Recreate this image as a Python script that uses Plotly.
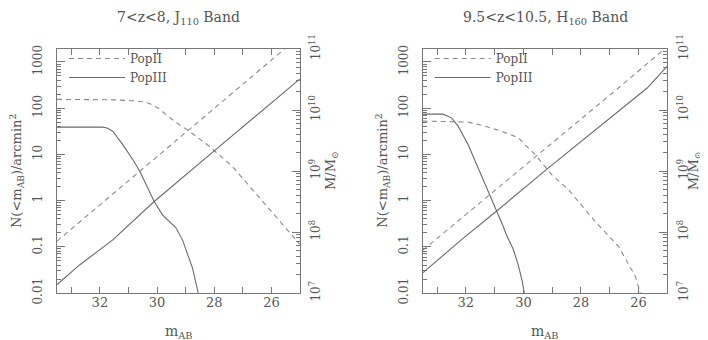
import numpy as np
import plotly.graph_objects as go

# ---- data (m_AB, log10 values) ----
# left panel: 7<z<8, J110
j_cnt2_m = [33.5, 31.5, 30.85, 30.5, 30.27, 29.95, 29.69, 29.22, 28.91, 28.18, 27.37, 26.67, 25.0]
j_cnt2_logn = [2.19, 2.18, 2.16, 2.14, 2.10, 2.00, 1.86, 1.64, 1.52, 1.18, 0.74, 0.24, -0.95]
j_cnt3_m = [33.5, 31.9, 31.75, 31.55, 31.2, 30.85, 30.6, 30.27, 30.1, 29.81, 29.34, 29.11, 28.94, 28.76, 28.56]
j_cnt3_logn = [1.59, 1.59, 1.57, 1.50, 1.21, 0.89, 0.63, 0.22, -0.02, -0.31, -0.59, -0.85, -1.13, -1.46, -2.0]
j_mass2_m = [33.5, 28.91, 25.54]
j_mass2_logm = [7.85, 9.67, 11.0]
j_mass3_m = [33.5, 32.71, 31.55, 30.10, 28.0, 26.44, 25.0]
j_mass3_logm = [7.14, 7.46, 7.87, 8.50, 9.33, 9.95, 10.51]

# right panel: 9.5<z<10.5, H160
h_cnt2_m = [33.5, 31.92, 31.34, 30.76, 30.18, 29.82, 29.54, 29.02, 28.44, 27.51, 26.70, 26.11, 25.94]
h_cnt2_logn = [1.72, 1.70, 1.61, 1.50, 1.36, 1.14, 0.96, 0.56, 0.24, -0.45, -0.99, -1.64, -2.0]
h_cnt3_m = [33.5, 32.79, 32.5, 32.27, 31.92, 31.57, 31.28, 30.94, 30.70, 30.59, 30.35, 30.18, 30.04, 29.97]
h_cnt3_logn = [1.87, 1.87, 1.79, 1.61, 1.21, 0.71, 0.27, -0.23, -0.56, -0.74, -1.06, -1.39, -1.75, -2.0]
h_mass2_m = [33.5, 29.54, 26.70, 25.1]
h_mass2_logm = [7.70, 9.24, 10.36, 11.0]
h_mass3_m = [33.5, 32.16, 30.94, 29.13, 25.7, 25.0]
h_mass3_logm = [7.33, 7.87, 8.34, 9.05, 10.36, 10.72]

titles = ["7<z<8, J<sub>110</sub> Band", "9.5<z<10.5, H<sub>160</sub> Band"]
x_ticks = [25, 26, 27, 28, 29, 30, 31, 32, 33]
x_labels = ["", "26", "", "28", "", "30", "", "32", ""]
n_ticks = [0.01, 0.1, 1, 10, 100, 1000]
n_labels = ["0.01", "0.1", "1", "10", "100", "1000"]
m_ticks = [1e7, 1e8, 1e9, 1e10, 1e11]
m_labels = ["10<sup>7</sup>", "10<sup>8</sup>", "10<sup>9</sup>", "10<sup>10</sup>", "10<sup>11</sup>"]

SERIF = "DejaVu Serif"
TXT = "#555555"
AX = "#777777"
C2 = "#8a8a8a"
C3 = "#6a6a6a"
DASH = "5px,4px"

fig = go.Figure()

panels = [
    (j_cnt2_m, j_cnt2_logn, j_cnt3_m, j_cnt3_logn, j_mass2_m, j_mass2_logm, j_mass3_m, j_mass3_logm),
    (h_cnt2_m, h_cnt2_logn, h_cnt3_m, h_cnt3_logn, h_mass2_m, h_mass2_logm, h_mass3_m, h_mass3_logm),
]

for i, p in enumerate(panels):
    c2m, c2n, c3m, c3n, m2m, m2v, m3m, m3v = p
    xa = "x" if i == 0 else "x2"
    yl = "y" if i == 0 else "y3"
    yr = "y2" if i == 0 else "y4"
    ylab = "y5" if i == 0 else "y6"
    leg = "legend" if i == 0 else "legend2"
    fig.add_trace(go.Scatter(x=c2m, y=10 ** np.array(c2n), mode="lines", xaxis=xa, yaxis=yl,
                             line=dict(color=C2, width=1.1, dash=DASH), name="PopII",
                             legend=leg, showlegend=True))
    fig.add_trace(go.Scatter(x=c3m, y=10 ** np.array(c3n), mode="lines", xaxis=xa, yaxis=yl,
                             line=dict(color=C3, width=1.1), name="PopIII",
                             legend=leg, showlegend=True))
    fig.add_trace(go.Scatter(x=m2m, y=10 ** np.array(m2v), mode="lines", xaxis=xa, yaxis=yr,
                             line=dict(color=C2, width=1.1, dash=DASH), showlegend=False))
    fig.add_trace(go.Scatter(x=m3m, y=10 ** np.array(m3v), mode="lines", xaxis=xa, yaxis=yr,
                             line=dict(color=C3, width=1.1), showlegend=False))
    # hidden copy so the label-only axis gets drawn
    fig.add_trace(go.Scatter(x=c3m, y=10 ** np.array(c3n), mode="lines", xaxis=xa, yaxis=ylab,
                             opacity=0, hoverinfo="skip", showlegend=False))

W, H = 708, 340
x_doms = [[49 / W, 292 / W], [414.7 / W, 659.3 / W]]
y_dom = [1 - 285 / H, 1 - 41 / H]
mlabel_off = [31, 27]

minor_n = [k * 10.0 ** e for e in range(-2, 4) for k in range(2, 10)]
minor_m = [k * 10.0 ** e for e in range(7, 11) for k in range(2, 10)]

def xaxis(dom, anchor):
    return dict(domain=dom, anchor=anchor, range=[33.5, 25], tickmode="array",
                tickvals=x_ticks, ticktext=x_labels, ticks="inside", ticklen=6,
                tickcolor=AX, showline=True, linecolor=AX, linewidth=1, mirror="ticks",
                showgrid=False, zeroline=False, ticklabelstandoff=-3, automargin=False,
                tickfont=dict(family=SERIF, size=13, color=TXT))

def yleft(anchor):
    # ticks and frame only; labels come from a companion axis
    return dict(domain=y_dom, anchor=anchor, type="log", range=[-2, 3.28], tickmode="array",
                tickvals=n_ticks, showticklabels=False, ticks="inside", ticklen=8,
                tickcolor=AX, showline=True, linecolor=AX, linewidth=1, showgrid=False,
                zeroline=False, automargin=False,
                minor=dict(tickmode="array", tickvals=minor_n, ticks="inside", ticklen=4,
                           tickcolor=AX, showgrid=False))

def yleft_labels(anchor, over):
    # invisible outside ticks push the rotated labels away from the frame
    return dict(domain=y_dom, anchor=anchor, overlaying=over, side="left", type="log",
                range=[-2, 3.28], tickmode="array", tickvals=n_ticks, ticktext=n_labels,
                tickangle=-90, ticks="outside", ticklen=9, tickcolor="rgba(0,0,0,0)",
                showline=False, showgrid=False, zeroline=False, automargin=False,
                tickfont=dict(family=SERIF, size=12, color=TXT))

def yright(anchor, over):
    return dict(domain=y_dom, anchor=anchor, overlaying=over, side="right", type="log",
                range=[7, 11], tickmode="array", tickvals=m_ticks, ticktext=m_labels,
                tickangle=-90, ticks="inside", ticklen=8, tickcolor=AX, showline=True,
                linecolor=AX, linewidth=1, showgrid=False, zeroline=False, ticklabelstandoff=5,
                automargin=False,
                minor=dict(tickmode="array", tickvals=minor_m, ticks="inside", ticklen=4,
                           tickcolor=AX, showgrid=False),
                tickfont=dict(family=SERIF, size=12, color=TXT))

annotations = []
for i in range(2):
    cx = (x_doms[i][0] + x_doms[i][1]) / 2
    cy = (y_dom[0] + y_dom[1]) / 2
    common = dict(xref="paper", yref="paper", showarrow=False, xanchor="center", yanchor="middle",
                  font=dict(family=SERIF, size=14, color=TXT))
    side = dict(common, font=dict(family=SERIF, size=13, color=TXT))
    annotations.append(dict(text=titles[i], x=cx, y=1 - 10 / H, **common))
    annotations.append(dict(text="m<sub>AB</sub>", x=cx, y=1 - 324 / H, **common))
    annotations.append(dict(text="N(<m<sub>AB</sub>)/arcmin<sup>2</sup>", textangle=-90,
                            x=x_doms[i][0] - 40 / W, y=cy, **side))
    annotations.append(dict(text="M/M<sub>⊙</sub>", textangle=-90,
                            x=x_doms[i][1] + mlabel_off[i] / W, y=cy, **side))

legend_common = dict(xanchor="left", yanchor="top", bgcolor="rgba(0,0,0,0)", itemwidth=56,
                     font=dict(family=SERIF, size=12, color=TXT), tracegroupgap=0,
                     itemclick=False)

fig.update_layout(
    width=W, height=H,
    margin=dict(l=0, r=0, t=0, b=0, autoexpand=False),
    paper_bgcolor="white", plot_bgcolor="white",
    xaxis=xaxis(x_doms[0], "y"),
    xaxis2=xaxis(x_doms[1], "y3"),
    yaxis=yleft("x"),
    yaxis2=yright("x", "y"),
    yaxis3=yleft("x2"),
    yaxis4=yright("x2", "y3"),
    yaxis5=yleft_labels("x", "y"),
    yaxis6=yleft_labels("x2", "y3"),
    legend=dict(x=x_doms[0][0] + 7 / W, y=1 - 36 / H, **legend_common),
    legend2=dict(x=x_doms[1][0] + 7 / W, y=1 - 36 / H, **legend_common),
    annotations=annotations,
)

fig.write_html("out.html")
